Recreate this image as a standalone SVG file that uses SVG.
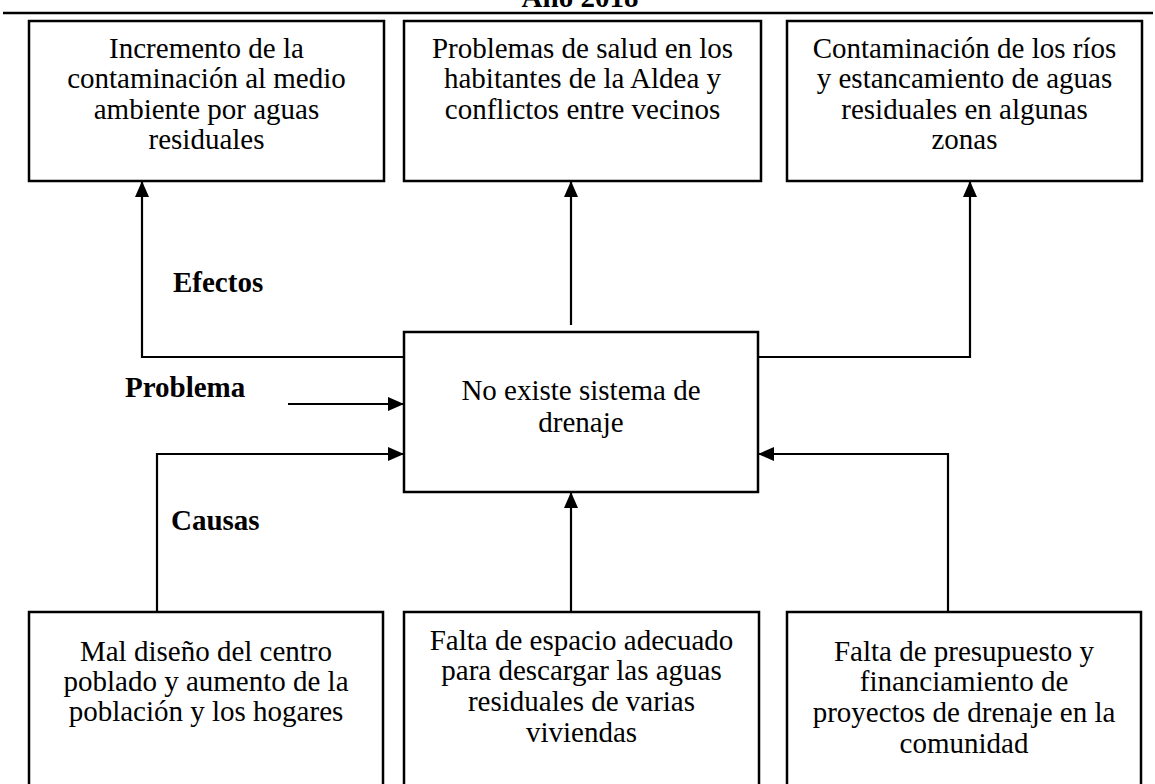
<svg xmlns="http://www.w3.org/2000/svg" width="1155" height="784" viewBox="0 0 1155 784">
<style>
.box{fill:#fff;stroke:#000;stroke-width:2.5}
.t{font-family:"Liberation Serif","Times New Roman",serif;font-size:29px;fill:#000;text-anchor:middle}
.b{font-family:"Liberation Serif","Times New Roman",serif;font-size:29px;font-weight:bold;fill:#000}
.c{fill:none;stroke:#000;stroke-width:2.2;marker-end:url(#ah)}
</style>
<defs>
<marker id="ah" markerUnits="userSpaceOnUse" markerWidth="16" markerHeight="16" viewBox="0 0 16 16" refX="15" refY="8" orient="auto">
<path d="M0,1 L16,8 L0,15 Z" fill="#000"/>
</marker>
</defs>
<rect width="1155" height="784" fill="#fff"/>
<g id="title">
<text class="b" x="580" y="7" text-anchor="middle">Año 2018</text>
<line x1="3" y1="13" x2="1153" y2="13" stroke="#000" stroke-width="2.5"/>
</g>
<g id="connectors">
<path class="c" d="M404,357 H142 V182"/>
<path class="c" d="M571,325 V182"/>
<path class="c" d="M758,357 H970 V182"/>
<path class="c" d="M288,404 H403"/>
<path class="c" d="M157,612 V454 H403"/>
<path class="c" d="M571,612 V493"/>
<path class="c" d="M948,612 V454 H759"/>
</g>
<g id="effect1">
<rect class="box" x="29" y="21" width="355" height="160"/>
<text class="t" x="206.5" y="58">Incremento de la</text>
<text class="t" x="206.5" y="88">contaminación al medio</text>
<text class="t" x="206.5" y="119">ambiente por aguas</text>
<text class="t" x="206.5" y="149">residuales</text>
</g>
<g id="effect2">
<rect class="box" x="404" y="21" width="357" height="160"/>
<text class="t" x="582.5" y="58">Problemas de salud en los</text>
<text class="t" x="582.5" y="88">habitantes de la Aldea y</text>
<text class="t" x="582.5" y="119">conflictos entre vecinos</text>
</g>
<g id="effect3">
<rect class="box" x="787" y="21" width="355" height="160"/>
<text class="t" x="964.5" y="58">Contaminación de los ríos</text>
<text class="t" x="964.5" y="88">y estancamiento de aguas</text>
<text class="t" x="964.5" y="119">residuales en algunas</text>
<text class="t" x="964.5" y="149">zonas</text>
</g>
<g id="labels">
<text class="b" x="173" y="292">Efectos</text>
<text class="b" x="125" y="397">Problema</text>
<text class="b" x="171" y="530">Causas</text>
</g>
<g id="problem">
<rect class="box" x="404" y="332" width="354" height="160"/>
<text class="t" x="581" y="400">No existe sistema de</text>
<text class="t" x="581" y="432">drenaje</text>
</g>
<g id="cause1">
<rect class="box" x="29" y="612" width="354" height="200"/>
<text class="t" x="206" y="661">Mal diseño del centro</text>
<text class="t" x="206" y="691">poblado y aumento de la</text>
<text class="t" x="206" y="721">población y los hogares</text>
</g>
<g id="cause2">
<rect class="box" x="404" y="612" width="355" height="200"/>
<text class="t" x="581.5" y="650">Falta de espacio adecuado</text>
<text class="t" x="581.5" y="680">para descargar las aguas</text>
<text class="t" x="581.5" y="711">residuales de varias</text>
<text class="t" x="581.5" y="742">viviendas</text>
</g>
<g id="cause3">
<rect class="box" x="787" y="612" width="354" height="200"/>
<text class="t" x="964" y="661">Falta de presupuesto y</text>
<text class="t" x="964" y="691">financiamiento de</text>
<text class="t" x="964" y="722">proyectos de drenaje en la</text>
<text class="t" x="964" y="753">comunidad</text>
</g>
</svg>
